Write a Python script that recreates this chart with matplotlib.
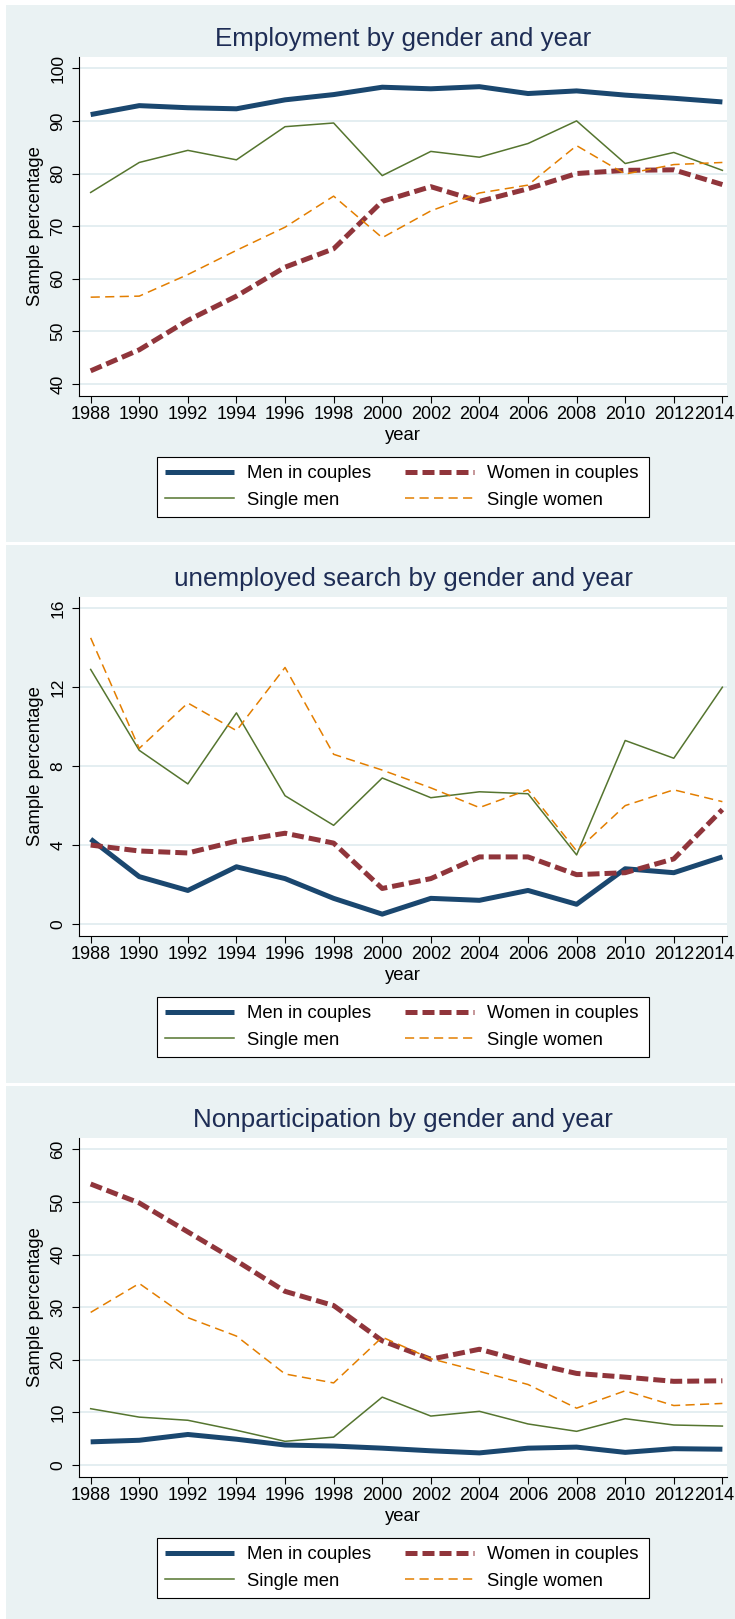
"""Employment, unemployed search and nonparticipation by gender and year (three stacked panels)."""

import matplotlib
matplotlib.use("Agg")
import matplotlib.pyplot as plt
from matplotlib.patches import Rectangle
from matplotlib.transforms import ScaledTranslation

years = list(range(1988, 2015, 2))

labels = ["Men in couples", "Women in couples", "Single men", "Single women"]

# Employment
emp_men_couples = [91.2, 92.9, 92.5, 92.3, 94.0, 95.0, 96.4, 96.1, 96.5, 95.2, 95.7, 94.9, 94.3, 93.6]
emp_women_couples = [42.5, 46.5, 52.1, 56.7, 62.2, 65.7, 74.7, 77.5, 74.7, 77.1, 80.0, 80.6, 80.7, 77.9]
emp_single_men = [76.4, 82.1, 84.4, 82.6, 88.9, 89.6, 79.6, 84.2, 83.1, 85.7, 90.0, 81.9, 84.0, 80.6]
emp_single_women = [56.5, 56.7, 60.8, 65.4, 69.8, 75.7, 67.8, 72.9, 76.3, 77.8, 85.3, 79.9, 81.7, 82.1]

# Unemployed search
srch_men_couples = [4.3, 2.4, 1.7, 2.9, 2.3, 1.3, 0.5, 1.3, 1.2, 1.7, 1.0, 2.8, 2.6, 3.4]
srch_women_couples = [4.0, 3.7, 3.6, 4.2, 4.6, 4.1, 1.8, 2.3, 3.4, 3.4, 2.5, 2.6, 3.3, 5.8]
srch_single_men = [12.9, 8.8, 7.1, 10.7, 6.5, 5.0, 7.4, 6.4, 6.7, 6.6, 3.5, 9.3, 8.4, 12.0]
srch_single_women = [14.5, 8.9, 11.2, 9.8, 13.0, 8.6, 7.8, 6.9, 5.9, 6.8, 3.7, 6.0, 6.8, 6.2]

# Nonparticipation
np_men_couples = [4.4, 4.7, 5.8, 4.9, 3.8, 3.6, 3.2, 2.7, 2.3, 3.2, 3.4, 2.4, 3.1, 3.0]
np_women_couples = [53.4, 49.8, 44.3, 38.8, 33.0, 30.3, 23.6, 20.1, 22.0, 19.5, 17.4, 16.7, 15.9, 16.0]
np_single_men = [10.7, 9.1, 8.5, 6.6, 4.5, 5.3, 12.9, 9.3, 10.2, 7.8, 6.4, 8.8, 7.6, 7.4]
np_single_women = [29.0, 34.5, 28.0, 24.5, 17.3, 15.6, 24.3, 20.2, 17.8, 15.3, 10.8, 14.1, 11.3, 11.7]

W, H, DPI = 735, 1619, 100

BG = "#eaf2f3"
GRID = "#e2edf0"
NAVY = "#1a476f"
MAROON = "#90353b"
GREEN = "#55752f"
ORANGE = "#e37e00"
TITLE_COLOR = "#1e2d55"

plt.rcParams["font.family"] = ["Liberation Sans", "DejaVu Sans"]

fig = plt.figure(figsize=(W / DPI, H / DPI), dpi=DPI)
fig.patch.set_facecolor("white")


def fy(y):
    """Pixel row (from top) to figure fraction."""
    return 1 - y / H


def draw_panel(bg_top, bg_bottom, off, title, series, ticks):
    # graph region background, kept behind the axes
    fig.patches.append(Rectangle((6 / W, fy(bg_bottom)), 1 - 6 / W, (bg_bottom - bg_top) / H,
                                 transform=fig.transFigure, facecolor=BG, edgecolor="none",
                                 zorder=-10))
    # legend box (drawn by hand so its padding matches)
    fig.patches.append(Rectangle((157 / W, fy(off + 517)), 492 / W, 60 / H,
                                 transform=fig.transFigure, facecolor="white",
                                 edgecolor="black", lw=0.8, zorder=-5))

    ax = fig.add_axes([79 / W, fy(off + 396), 648 / W, 339 / H])
    ax.set_zorder(1)
    ax.set_facecolor("white")
    for side in ("top", "right"):
        ax.spines[side].set_visible(False)
    for side in ("left", "bottom"):
        ax.spines[side].set_color("black")
        ax.spines[side].set_linewidth(0.8)

    men_c, women_c, s_men, s_women = series
    h1, = ax.plot(years, men_c, color=NAVY, lw=3.6, solid_capstyle="butt")
    h2, = ax.plot(years, women_c, color=MAROON, lw=3.6, ls=(0, (2.4, 1.0)), dash_capstyle="butt")
    h3, = ax.plot(years, s_men, color=GREEN, lw=1.1)
    h4, = ax.plot(years, s_women, color=ORANGE, lw=1.1, ls=(0, (6, 3.5)))

    lo, hi = ticks[0], ticks[-1]
    span = hi - lo
    ax.set_ylim(lo - 0.038 * span, hi + 0.0357 * span)
    ax.set_xlim(1987.52, 2014.19)
    ax.set_yticks(ticks)
    ax.set_xticks(years)
    ax.grid(axis="y", color=GRID, lw=1.3)
    ax.set_axisbelow(True)

    ax.tick_params(axis="x", length=5, width=0.8, pad=2.5, labelsize=13)
    ax.tick_params(axis="y", length=5, width=0.8, pad=4.7, labelsize=12.5, labelrotation=90)
    for lbl in ax.get_yticklabels():
        lbl.set_va("center")
    # last year label is nudged left so it stays inside the picture, as in the original
    last = ax.xaxis.get_major_ticks()[-1].label1
    last.set_transform(last.get_transform() + ScaledTranslation(-8.5 / DPI, 0, fig.dpi_scale_trans))

    fig.text(403 / W, fy(off + 46), title, ha="center", va="baseline",
             fontsize=18.7, color=TITLE_COLOR)
    fig.text(403 / W, fy(off + 440), "year", ha="center", va="baseline", fontsize=13.3)
    fig.text(36 / W, fy(off + 226.5), "Sample percentage", rotation=90,
             ha="center", va="center", fontsize=13.3)

    ax.legend([h1, h3, h2, h4], [labels[0], labels[2], labels[1], labels[3]],
              ncol=2, loc="upper left", bbox_to_anchor=(157 / W, fy(off + 457)),
              bbox_transform=fig.transFigure, fontsize=13.3, frameon=False,
              handlelength=3.73, handletextpad=0.7, columnspacing=1.85,
              labelspacing=0.52, borderpad=0.45, borderaxespad=0)
    return ax


draw_panel(5, 542, 0, "Employment by gender and year",
           (emp_men_couples, emp_women_couples, emp_single_men, emp_single_women),
           [40, 50, 60, 70, 80, 90, 100])
draw_panel(545, 1083, 540, "unemployed search by gender and year",
           (srch_men_couples, srch_women_couples, srch_single_men, srch_single_women),
           [0, 4, 8, 12, 16])
draw_panel(1086, 1619, 1081, "Nonparticipation by gender and year",
           (np_men_couples, np_women_couples, np_single_men, np_single_women),
           [0, 10, 20, 30, 40, 50, 60])

fig.savefig("out.png", dpi=DPI)
